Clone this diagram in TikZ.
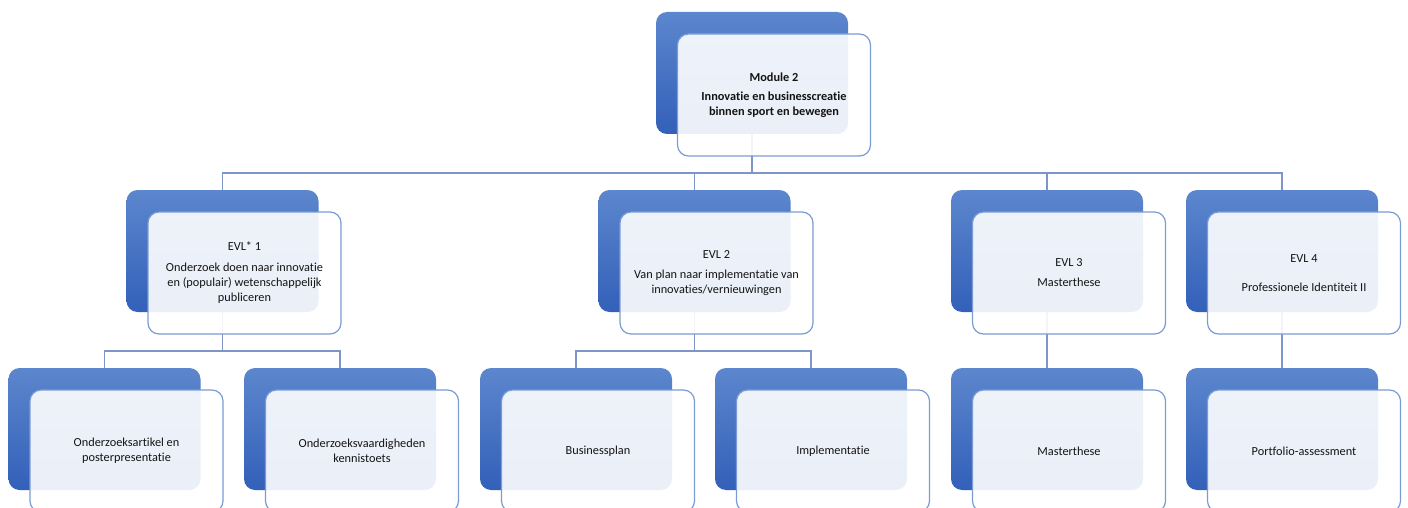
\documentclass[tikz,border=0pt]{standalone}
\usepackage{fontspec}
\setmainfont{Carlito}[Ligatures={NoCommon}]
\definecolor{btop}{HTML}{5C86CD}
\definecolor{bbot}{HTML}{3360B9}
\definecolor{fborder}{HTML}{7B9BD3}
\definecolor{conncol}{HTML}{7D96C6}
\definecolor{txt}{HTML}{141414}
\tikzset{
  backbox/.style={rounded corners=11pt, minimum width=192pt, minimum height=122pt,
    inner sep=0pt, top color=btop, bottom color=bbot, draw=none},
  frontbox/.style={rounded corners=11pt, minimum width=193pt, minimum height=122pt,
    inner sep=0pt, fill=white, fill opacity=0.9, text opacity=1, draw=fborder,
    line width=1.2pt, align=center, text=txt, font=\fontsize{12.3}{15}\selectfont},
  conn/.style={draw=conncol, line width=1.3pt}
}
\begin{document}
\begin{tikzpicture}[x=1pt,y=-1pt]
\useasboundingbox (0,0) rectangle (1408,508);
\clip (0,0) rectangle (1408,508);
\coordinate (c0) at (752,73);
\coordinate (c1) at (222.5,251);
\coordinate (c2) at (694.5,251);
\coordinate (c3) at (1047,251);
\coordinate (c4) at (1282,251);
\coordinate (c5) at (104.5,429);
\coordinate (c6) at (340,429);
\coordinate (c7) at (576,429);
\coordinate (c8) at (811,429);
\coordinate (c9) at (1047,429);
\coordinate (c10) at (1282,429);
% back boxes
\foreach \i in {0,...,10} {
  \node[backbox] (b\i) at (c\i) {};
}
% connectors
\coordinate (h0) at (752,173);
\coordinate (h1) at (222.5,351);
\coordinate (h2) at (694.5,351);
\draw[conn] (b0.south) -- (h0);
\draw[conn] (b1.north) |- (h0) -| (b4.north);
\draw[conn] (b2.north) -- (b2.north |- h0);
\draw[conn] (b3.north) -- (b3.north |- h0);
\draw[conn] (b1.south) -- (h1);
\draw[conn] (b5.north) |- (h1) -| (b6.north);
\draw[conn] (b2.south) -- (h2);
\draw[conn] (b7.north) |- (h2) -| (b8.north);
\draw[conn] (b3.south) -- (b9.north);
\draw[conn] (b4.south) -- (b10.north);
% front boxes
\node[frontbox] (f0) at ([shift={(22,22)}]c0) {\bfseries Module 2\\[4pt]\bfseries Innovatie en businesscreatie\\\bfseries binnen sport en bewegen};
\node[frontbox] (f1) at ([shift={(22,22)}]c1) {EVL* 1\\[6pt]Onderzoek doen naar innovatie\\en (populair) wetenschappelijk\\publiceren};
\node[frontbox] (f2) at ([shift={(22,22)}]c2) {EVL 2\\[5pt]Van plan naar implementatie van\\innovaties/vernieuwingen};
\node[frontbox] (f3) at ([shift={(22,22)}]c3) {EVL 3\\[5pt]Masterthese};
\node[frontbox] (f4) at ([shift={(22,22)}]c4) {EVL 4\\[14pt]Professionele Identiteit II};
\node[frontbox] (f5) at ([shift={(22,22)}]c5) {Onderzoeksartikel en\\posterpresentatie};
\node[frontbox] (f6) at ([shift={(22,22)}]c6) {Onderzoeksvaardigheden\\kennistoets};
\node[frontbox] (f7) at ([shift={(22,22)}]c7) {Businessplan};
\node[frontbox] (f8) at ([shift={(22,22)}]c8) {Implementatie};
\node[frontbox] (f9) at ([shift={(22,22)}]c9) {Masterthese};
\node[frontbox] (f10) at ([shift={(22,22)}]c10) {Portfolio-assessment};
\end{tikzpicture}
\end{document}
